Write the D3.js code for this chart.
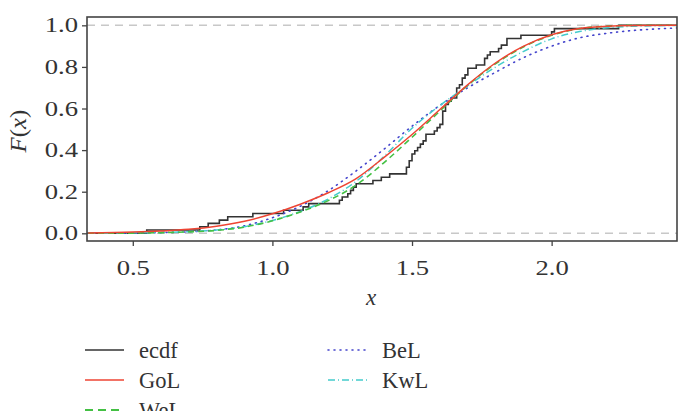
<!DOCTYPE html>
<html><head><meta charset="utf-8">
<script src="https://cdn.jsdelivr.net/npm/d3@7"></script>
<style>body{margin:0;background:#fff}svg{display:block}text{font-family:"Liberation Serif","DejaVu Serif",serif;fill:#333}</style>
</head><body><svg id="c" width="682" height="411"></svg>
<script>
// Observed sample (ECDF)
const sample = [0.55,0.74,0.77,0.81,0.84,0.93,1.04,1.11,1.13,1.24,1.25,1.27,1.28,1.29,1.30,1.36,1.39,1.42,1.48,1.48,1.49,1.49,1.50,1.50,1.51,1.52,1.53,1.54,1.55,1.55,1.58,1.59,1.60,1.61,1.61,1.61,1.61,1.62,1.62,1.63,1.64,1.66,1.66,1.66,1.67,1.68,1.68,1.69,1.70,1.70,1.73,1.76,1.76,1.77,1.78,1.81,1.82,1.84,1.84,1.89,2.00,2.01,2.24];
// Fitted CDFs
const xGrid = [0.34,0.5,0.6,0.7,0.8,0.9,1.0,1.1,1.2,1.3,1.4,1.5,1.6,1.7,1.8,1.9,2.0,2.1,2.2,2.3,2.45];
const GoL = [0.002,0.006,0.011,0.019,0.034,0.058,0.094,0.14,0.195,0.263,0.365,0.475,0.595,0.715,0.82,0.9,0.955,0.985,0.996,0.999,1.0];
const WeL = [0.0,0.001,0.003,0.007,0.014,0.03,0.06,0.103,0.157,0.232,0.34,0.462,0.588,0.712,0.816,0.897,0.952,0.984,0.996,1.0,1.0];
const BeL = [0.0,0.001,0.003,0.007,0.016,0.036,0.075,0.13,0.205,0.3,0.405,0.515,0.615,0.70,0.775,0.845,0.9,0.94,0.962,0.976,0.987];
const KwL = [0.0,0.002,0.004,0.008,0.016,0.032,0.062,0.105,0.165,0.25,0.37,0.505,0.615,0.71,0.80,0.875,0.935,0.97,0.988,0.996,0.999];
const xTicks = [0.5,1.0,1.5,2.0];
const yTicks = [0.0,0.2,0.4,0.6,0.8,1.0];
const legendNames = ["ecdf","GoL","WeL","BeL","KwL"];

const svg = d3.select("#c");
const L=87,R=677,T=17,B=241;
const x = d3.scaleLinear().domain([0.336,2.449]).range([L,R]);
const y = d3.scaleLinear().domain([-0.037,1.04]).range([B,T]);
const FONT = "Liberation Serif, DejaVu Serif, serif";
function stretch(sel, f){ sel.each(function(){ const l=this.getComputedTextLength();
  d3.select(this).attr("textLength", l*f).attr("lengthAdjust","spacingAndGlyphs"); }); }

const styles = {
  ecdf:{color:"#333333",dash:null,w:1.6},
  GoL:{color:"#ee4433",dash:null,w:1.5},
  WeL:{color:"#44c044",dash:"6,4",w:1.6},
  BeL:{color:"#4444cc",dash:"1,5",w:1.6,cap:"round"},
  KwL:{color:"#44cccc",dash:"7,3,1,3",w:1.5}
};

const g = svg.append("g");
g.append("clipPath").attr("id","clip").append("rect").attr("x",L).attr("y",T).attr("width",R-L).attr("height",B-T);
const plot = g.append("g").attr("clip-path","url(#clip)");

// 0 and 1 reference lines
[0,1].forEach(v=>plot.append("line").attr("x1",L).attr("x2",R).attr("y1",y(v)).attr("y2",y(v))
  .attr("stroke","#c8c8c8").attr("stroke-width",1.5).attr("stroke-dasharray","8,6"));

// ECDF step
const n = sample.length;
const uniq = Array.from(new Set(sample)).sort((a,b)=>a-b);
const pts = [[x.domain()[0]-0.1,0]];
uniq.forEach(u=>{
  const prev = pts[pts.length-1][1];
  const c = sample.filter(s=>s<=u).length/n;
  pts.push([u,prev]); pts.push([u,c]);
});
pts.push([x.domain()[1]+0.1,1]);
plot.append("path").attr("d",d3.line().x(d=>x(d[0])).y(d=>y(d[1]))(pts))
  .attr("fill","none").attr("stroke",styles.ecdf.color).attr("stroke-width",styles.ecdf.w);

const curves = {GoL,WeL,BeL,KwL};
["BeL","KwL","WeL","GoL"].forEach(k=>{
  const s=styles[k];
  plot.append("path").attr("d",d3.line().curve(d3.curveMonotoneX).x((d,i)=>x(xGrid[i])).y(d=>y(d))(curves[k]))
    .attr("fill","none").attr("stroke",s.color).attr("stroke-width",s.w)
    .attr("stroke-dasharray",s.dash).attr("stroke-linecap",s.cap||"butt");
});

// frame
g.append("rect").attr("x",L).attr("y",T).attr("width",R-L).attr("height",B-T)
  .attr("fill","none").attr("stroke","#444").attr("stroke-width",1.6);

// axes
const xa = g.append("g").attr("transform",`translate(0,${B})`)
  .call(d3.axisBottom(x).tickValues(xTicks).tickFormat(d3.format(".1f")).tickSize(5).tickPadding(14));
const ya = g.append("g").attr("transform",`translate(${L},0)`)
  .call(d3.axisLeft(y).tickValues(yTicks).tickFormat(d3.format(".1f")).tickSize(5).tickPadding(4));
[xa,ya].forEach(a=>{
  a.attr("font-family",FONT).attr("font-size",20.5);
  a.select(".domain").remove();
  a.selectAll(".tick line").attr("stroke","#444").attr("stroke-width",1.3);
  a.selectAll(".tick text").attr("fill","#333");
  stretch(a.selectAll(".tick text"),1.3);
});

svg.append("text").attr("x",371).attr("y",305).attr("text-anchor","middle")
  .attr("font-size",23).style("font-style","italic").text("x");
const yl = svg.append("text").attr("transform","translate(26,131) rotate(-90)").attr("text-anchor","middle").attr("font-size",23);
yl.append("tspan").style("font-style","italic").text("F");
yl.append("tspan").text("(");
yl.append("tspan").style("font-style","italic").text("x");
yl.append("tspan").text(")");
stretch(yl,1.08);

// legend
const lpos = {ecdf:[85,350],GoL:[85,380],WeL:[85,410],BeL:[328,350],KwL:[328,380]};
legendNames.forEach(k=>{
  const [lx,ly]=lpos[k], s=styles[k];
  svg.append("line").attr("x1",lx).attr("x2",lx+39).attr("y1",ly).attr("y2",ly)
    .attr("stroke",s.color).attr("stroke-width",k==="WeL"?2.2:s.w).attr("stroke-dasharray",k==="WeL"?"8,5":s.dash).attr("stroke-linecap",s.cap||"butt");
  svg.append("text").attr("x",lx+54).attr("y",ly+8).attr("font-size",22.5).text(k);
});
</script></body></html>
